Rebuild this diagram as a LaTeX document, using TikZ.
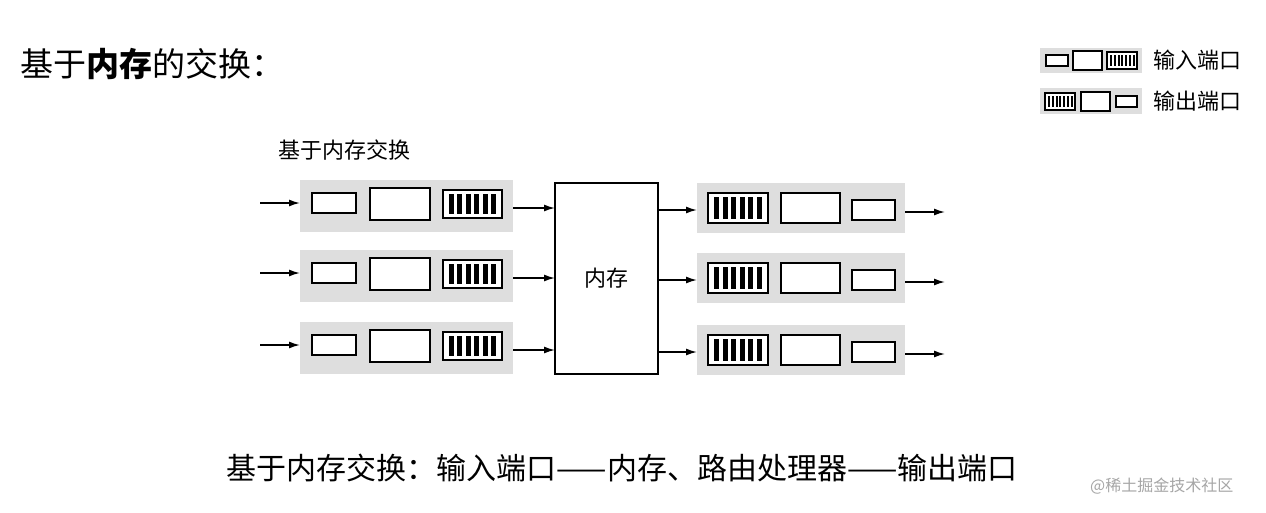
\documentclass[tikz,border=0pt]{standalone}
\usepackage{fontspec}
\setmainfont{Noto Sans CJK SC}
\usetikzlibrary{arrows.meta}
\begin{document}
\begin{tikzpicture}[x=1pt,y=-1pt,
 band/.style={fill=black!13,draw=none},
 bx/.style={draw=black,line width=1.6pt,fill=white},
 arr/.style={-{Latex[length=11pt,width=7pt]},line width=1.5pt},
 lbl/.style={inner sep=0pt,anchor=west}]
\useasboundingbox (0,0) rectangle (1266,512);
\fill[white] (0,0) rectangle (1266,512);
\node[lbl,font=\fontsize{33}{35}\selectfont] (title) at (20,64) {基于\textbf{内存}的交换：};
\node[lbl,font=\fontsize{22}{24}\selectfont] (sub) at (278,150) {基于内存交换};
\node[inner sep=0pt,font=\fontsize{30}{32}\selectfont] (bot) at (622,468) {基于内存交换：输入端口——内存、路由处理器——输出端口};
\node[lbl,font=\fontsize{16}{18}\selectfont,text=black!35] (wm) at (1090,486) {@稀土掘金技术社区};
% memory
\node[draw,line width=1.8pt,minimum width=103pt,minimum height=191pt,inner sep=0pt,font=\fontsize{22}{24}\selectfont] (mem) at (606.5,278.5) {内存};
\newcommand{\stripes}[4]{% x1 y1 x2 y2
 \draw[bx] (#1,#2) rectangle (#3,#4);
 \foreach \i in {0,...,5}{\fill ({#1+6+\i*(#3-#1-12)/5.6},{#2+4}) rectangle ({#1+6+\i*(#3-#1-12)/5.6+5},{#4-4});}}
\foreach \r/\y in {1/203,2/273,3/345}{
 \fill[band] (300,\y-23) rectangle (513,\y+29);
 \draw[bx] (312,\y-10) rectangle (356,\y+10);
 \draw[bx] (370,\y-15) rectangle (430,\y+17);
 \stripes{443}{\y-13}{502}{\y+15}
 \coordinate (ia\r) at (260,\y);
 \coordinate (ib\r) at (300,\y);
 \coordinate (ic\r) at (513,\y+5);
 \coordinate (id\r) at (555,\y+5);
 \draw[arr] (ia\r) -- (ib\r);
 \draw[arr] (ic\r) -- (id\r);
 \fill[band] (697,\y-20) rectangle (905,\y+30);
 \stripes{708}{\y-10}{768}{\y+20}
 \draw[bx] (781,\y-10) rectangle (840,\y+20);
 \draw[bx] (852,\y-3) rectangle (895,\y+17);
 \coordinate (oa\r) at (658,\y+7);
 \coordinate (ob\r) at (697,\y+7);
 \coordinate (oc\r) at (905,\y+9);
 \coordinate (od\r) at (945,\y+9);
 \draw[arr] (oa\r) -- (ob\r);
 \draw[arr] (oc\r) -- (od\r);
}
% legend
\fill[band] (1040,48) rectangle (1142,73);
\draw[bx,line width=1.1pt] (1046,55) rectangle (1068,66);
\draw[bx,line width=1.1pt] (1073,51) rectangle (1102,70);
\draw[bx,line width=1.1pt] (1107,52) rectangle (1137,69);
\foreach \i in {0,...,6}{\fill (1110+\i*3.8,55) rectangle (1112+\i*3.8,66);}
\node[lbl,font=\fontsize{22}{24}\selectfont] (l1) at (1153,60) {输入端口};
\fill[band] (1040,88) rectangle (1142,114);
\draw[bx,line width=1.1pt] (1045,93) rectangle (1075,110);
\foreach \i in {0,...,6}{\fill (1048+\i*3.8,96) rectangle (1050+\i*3.8,107);}
\draw[bx,line width=1.1pt] (1081,92) rectangle (1110,111);
\draw[bx,line width=1.1pt] (1116,96) rectangle (1137,107);
\node[lbl,font=\fontsize{22}{24}\selectfont] (l2) at (1153,101) {输出端口};
\end{tikzpicture}
\end{document}
